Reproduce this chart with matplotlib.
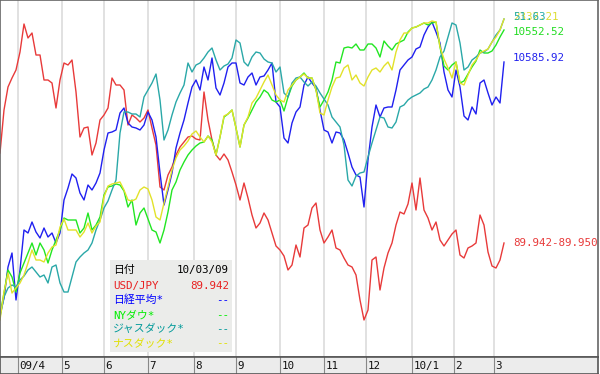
import numpy as np
import pandas as pd
import matplotlib
matplotlib.use("Agg")
import matplotlib.pyplot as plt
from matplotlib.patches import Rectangle

plt.rcParams['font.family'] = ['DejaVu Sans Mono', 'Noto Sans CJK JP']

# ---- data: readings every 2nd trading day from 2009-03-19 (level measured downward from chart top) ----
usdjpy = [153, 110, 87, 78, 70, 52, 24, 38, 33, 55, 55, 80, 80, 83, 108, 80, 63, 65, 60, 92,
          137, 128, 127, 155, 143, 120, 115, 108, 78, 85, 85, 90, 125, 115, 118, 122, 118, 110, 128, 145,
          187, 190, 175, 167, 155, 147, 142, 137, 136, 139, 140, 92, 120, 140, 155, 160, 154, 160, 172, 185,
          200, 183, 198, 215, 228, 223, 213, 220, 233, 246, 250, 256, 270, 265, 245, 257, 228, 225, 208, 203,
          230, 243, 237, 230, 248, 250, 258, 265, 267, 275, 300, 320, 310, 260, 257, 290, 268, 253, 243, 225,
          212, 214, 204, 183, 210, 178, 210, 218, 230, 222, 240, 246, 240, 234, 230, 255, 258, 248, 246, 243,
          215, 225, 252, 266, 268, 260, 243]
nikkei = [315, 298, 267, 253, 300, 270, 230, 233, 222, 232, 238, 228, 237, 233, 243, 233, 200, 188, 174, 178,
          193, 200, 185, 190, 183, 173, 150, 133, 132, 130, 113, 108, 123, 127, 128, 130, 125, 112, 120, 137,
          173, 205, 190, 173, 148, 133, 120, 103, 87, 80, 90, 67, 80, 58, 88, 95, 83, 67, 63, 63,
          83, 85, 77, 73, 85, 77, 76, 70, 63, 102, 107, 138, 143, 123, 112, 107, 85, 77, 83, 88,
          110, 130, 132, 143, 132, 133, 140, 153, 167, 175, 177, 207, 160, 127, 105, 117, 108, 107, 107, 90,
          70, 65, 60, 57, 49, 47, 35, 27, 22, 32, 43, 72, 90, 97, 70, 87, 116, 120, 107, 114,
          83, 80, 93, 105, 97, 103, 62]
nydow = [315, 293, 270, 277, 292, 273, 263, 253, 243, 255, 243, 250, 263, 250, 240, 230, 218, 220, 220, 220,
         233, 228, 213, 230, 225, 217, 195, 187, 186, 184, 185, 191, 207, 200, 225, 213, 208, 219, 230, 232,
         243, 230, 212, 190, 182, 170, 162, 155, 150, 146, 143, 142, 136, 140, 155, 137, 117, 114, 110, 128,
         147, 125, 118, 110, 102, 97, 90, 93, 100, 102, 100, 111, 97, 86, 80, 77, 73, 78, 78, 90,
         107, 100, 92, 80, 62, 63, 48, 47, 48, 44, 50, 50, 44, 44, 48, 57, 41, 46, 50, 44,
         42, 40, 32, 28, 27, 25, 23, 25, 23, 22, 47, 66, 70, 65, 62, 83, 81, 74, 67, 61,
         50, 53, 53, 51, 45, 37, 30]
jasdaq = [317, 297, 288, 285, 287, 280, 276, 270, 267, 272, 277, 275, 283, 267, 265, 283, 292, 292, 277, 262,
          257, 253, 250, 243, 230, 220, 208, 201, 190, 180, 133, 112, 112, 114, 114, 117, 97, 90, 83, 74,
          100, 140, 130, 115, 102, 93, 85, 63, 72, 65, 63, 58, 52, 48, 60, 70, 66, 64, 58, 40,
          43, 62, 66, 57, 52, 53, 59, 62, 63, 72, 67, 93, 97, 83, 78, 77, 82, 86, 82, 86,
          93, 99, 105, 117, 122, 127, 145, 180, 186, 176, 173, 172, 157, 143, 130, 117, 118, 127, 128, 122,
          107, 105, 100, 97, 95, 93, 89, 87, 80, 70, 57, 51, 37, 23, 25, 43, 70, 67, 60, 57,
          53, 52, 49, 42, 35, 30, 19]
nasdaq = [320, 292, 273, 293, 288, 283, 275, 263, 250, 260, 260, 262, 253, 247, 245, 227, 219, 230, 230, 230,
          237, 232, 223, 233, 226, 222, 197, 186, 184, 183, 182, 190, 200, 201, 199, 190, 187, 189, 200, 217,
          220, 203, 187, 170, 158, 150, 146, 141, 134, 131, 137, 142, 136, 142, 155, 137, 116, 114, 110, 128,
          147, 125, 117, 103, 98, 90, 82, 75, 85, 95, 100, 102, 90, 85, 80, 77, 74, 78, 78, 90,
          113, 115, 100, 87, 78, 77, 68, 65, 80, 75, 83, 86, 77, 70, 68, 72, 66, 62, 70, 52,
          40, 33, 33, 28, 27, 25, 23, 23, 21, 22, 47, 59, 68, 78, 62, 83, 85, 75, 65, 60,
          53, 51, 49, 42, 37, 30, 19]

month_labels = ["09/4", "5", "6", "7", "8", "9", "10", "11", "12", "10/1", "2", "3"]
month_starts = ["2009-04-01", "2009-05-01", "2009-06-01", "2009-07-01", "2009-08-01", "2009-09-01",
                "2009-10-01", "2009-11-01", "2009-12-01", "2010-01-01", "2010-02-01", "2010-03-01"]

last_labels = [("89.942-89.950", 243, "#e83a3a"), ("10585.92", 58, "#2222ee"),
               ("10552.52", 32, "#22dd22"), ("2332.21", 17, "#dddd33"), ("51.63", 17, "#22aaaa")]

legend_rows = [("日付", "10/03/09", "#000000"), ("USD/JPY", "89.942", "#e82020"),
               ("日経平均*", "--", "#0000ff"), ("NYダウ*", "--", "#00ee00"),
               ("ジャスダック*", "--", "#009999"), ("ナスダック*", "--", "#e0e000")]

# ---- trading day axis ----
bdays = pd.bdate_range("2009-03-19", periods=300)
idx = np.arange(0, 2 * len(usdjpy), 2)
month_idx = [int(np.searchsorted(bdays, pd.Timestamp(d))) for d in month_starts]

W, H = 600, 374
band = 17
fig = plt.figure(figsize=(W / 100, H / 100), dpi=100)
fig.patch.set_facecolor("white")
ax = fig.add_axes([0.0, band / H, 598 / W, (H - band) / H])
ax.set_xlim(0, 299)
ax.set_ylim(357, 0)
ax.set_xticks([])
ax.set_yticks([])
for s in ax.spines.values():
    s.set_color("#666666")
    s.set_linewidth(1.2)

for m in month_idx:
    ax.axvline(m, color="#dedede", lw=1.3, zorder=0)

series = [(usdjpy, "#e83a3a"), (nikkei, "#2020f0"), (nydow, "#22e622"),
          (jasdaq, "#2aa8a8"), (nasdaq, "#e2e22a")]
for vals, c in series:
    ax.plot(idx, vals, color=c, lw=1.0, zorder=2)

for txt, yv, c in last_labels:
    ax.text(256.5, yv, txt, color=c, fontsize=7.8, va="center", ha="left", zorder=5)

# legend box
ax.add_patch(Rectangle((55, 260), 61, 92, facecolor="#ebecea", edgecolor="none", zorder=4))
row_y = [270, 286, 300, 315, 329, 343]
for (lab, val, c), yv in zip(legend_rows, row_y):
    ax.text(56.5, yv, lab, color=c, fontsize=7.8, va="center", ha="left", zorder=5)
    ax.text(114.5, yv, val, color=c, fontsize=7.8, va="center", ha="right", zorder=5)

# bottom band
bax = fig.add_axes([0.0, 0.0, 598 / W, band / H])
bax.set_facecolor("#ececec")
bax.set_xlim(0, 299)
bax.set_ylim(0, 1)
bax.set_xticks([])
bax.set_yticks([])
for s in bax.spines.values():
    s.set_color("#555555")
    s.set_linewidth(1.2)
for m, lab in zip(month_idx, month_labels):
    bax.axvline(m, color="#888888", lw=0.8)
    bax.text(m + 0.8, 0.45, lab, fontsize=7.8, va="center", ha="left", color="#111111")

fig.savefig("out.png", dpi=100)
